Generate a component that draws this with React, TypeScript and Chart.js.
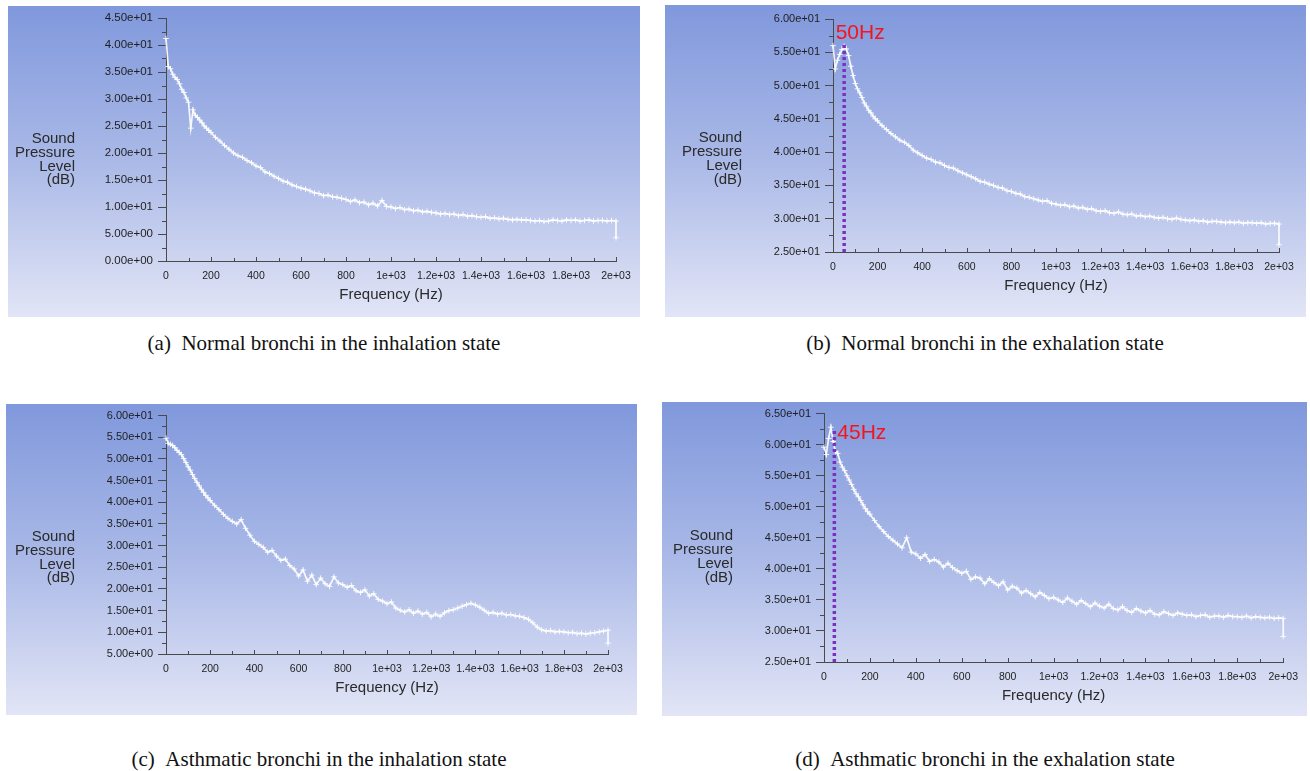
import React, { useEffect, useRef } from "react";
import { Chart, registerables } from "chart.js";

Chart.register(...registerables);

// ---------- data ----------
const FREQ = [
  0, 10, 20, 30, 40, 50, 60, 70, 80, 90, 100, 110, 120, 130, 140, 150, 160, 170, 180, 190,
  200, 220, 240, 260, 280, 300, 320, 340, 360, 380,
  400, 420, 440, 460, 480, 500, 520, 540, 560, 580,
  600, 620, 640, 660, 680, 700, 720, 740, 760, 780,
  800, 820, 840, 860, 880, 900, 920, 940, 960, 980,
  1000, 1020, 1040, 1060, 1080, 1100, 1120, 1140, 1160, 1180,
  1200, 1220, 1240, 1260, 1280, 1300, 1320, 1340, 1360, 1380,
  1400, 1420, 1440, 1460, 1480, 1500, 1520, 1540, 1560, 1580,
  1600, 1620, 1640, 1660, 1680, 1700, 1720, 1740, 1760, 1780,
  1800, 1820, 1840, 1860, 1880, 1900, 1920, 1940, 1960, 1980,
  2000, 2000,
];

// (a) Normal bronchi, inhalation
const SPL_A = [
  41.2, 36.0, 35.6, 34.6, 34.0, 33.6, 32.8, 31.8, 31.2, 30.2, 29.4, 24.6, 28.0, 27.0, 26.6, 26.1, 25.6, 25.0, 24.6, 24.2,
  23.8, 22.9, 22.2, 21.4, 20.7, 20.0, 19.5, 19.2, 18.6, 18.2,
  17.6, 17.3, 16.5, 16.2, 15.7, 15.3, 14.8, 14.6, 14.1, 13.8,
  13.5, 13.3, 13.0, 12.6, 12.5, 12.1, 12.2, 11.9, 11.8, 11.6,
  11.4, 11.0, 11.3, 10.8, 10.9, 10.4, 10.7, 10.2, 11.2, 10.1,
  10.0, 9.7, 9.9, 9.5, 9.6, 9.3, 9.4, 9.1, 9.2, 9.0,
  8.9, 8.7, 8.8, 8.6, 8.7, 8.4, 8.6, 8.3, 8.4, 8.2,
  8.1, 8.2, 7.9, 8.0, 7.8, 7.9, 7.7, 7.6, 7.7, 7.6,
  7.6, 7.5, 7.4, 7.5, 7.3, 7.4, 7.6, 7.5, 7.4, 7.6,
  7.5, 7.6, 7.4, 7.5, 7.6, 7.4, 7.5, 7.5, 7.4, 7.5,
  7.4, 4.3,
];

// (b) Normal bronchi, exhalation
const SPL_B = [
  56.0, 52.5, 53.8, 54.7, 55.4, 55.9, 55.5, 54.5, 52.9, 51.5, 50.3, 49.5, 48.9, 48.2, 47.4, 46.9, 46.3, 45.9, 45.4, 45.0,
  44.7, 44.0, 43.4, 42.8, 42.3, 41.8, 41.5, 41.0, 40.3, 39.9,
  39.5, 39.1, 38.9, 38.5, 38.4, 38.0, 37.7, 37.6, 37.2, 36.9,
  36.6, 36.3, 36.0, 35.6, 35.5, 35.2, 35.0, 34.7, 34.6, 34.2,
  34.1, 33.8, 33.7, 33.3, 33.2, 33.0, 32.8, 32.6, 32.7, 32.3,
  32.2, 32.0, 32.1, 31.8, 31.9, 31.6, 31.7, 31.4, 31.5, 31.2,
  31.1, 31.2, 30.9, 30.8, 31.0, 30.7, 30.6, 30.7, 30.4, 30.5,
  30.3, 30.4, 30.2, 30.1, 30.2, 30.0, 29.9, 30.1, 29.9, 29.8,
  29.7, 29.8, 29.6, 29.7, 29.5, 29.6, 29.6, 29.5, 29.4, 29.5,
  29.4, 29.5, 29.3, 29.4, 29.4, 29.3, 29.4, 29.2, 29.3, 29.3,
  29.2, 26.1,
];

// (c) Asthmatic bronchi, inhalation
const SPL_C = [
  54.8, 53.6, 53.4, 53.1, 52.6, 52.0, 51.5, 51.0, 50.1, 49.2, 48.2, 47.4, 46.4, 45.5, 44.6, 43.8, 43.0, 42.3, 41.6, 41.0,
  40.4, 39.3, 38.3, 37.2, 36.3, 35.6, 35.0, 36.0, 34.0, 32.4,
  31.0, 30.3, 29.6, 28.5, 28.9, 27.6, 26.6, 26.9, 25.4, 24.6,
  23.0, 24.4, 21.8, 23.2, 21.0, 22.5, 21.2, 20.6, 22.8, 21.4,
  21.0, 20.4, 20.8, 19.6, 19.2, 19.8, 18.4, 18.9, 17.6, 17.2,
  16.6, 17.0, 15.6, 15.1, 14.7, 15.2, 14.4, 14.9, 14.2, 14.6,
  13.6, 14.2, 13.7, 14.5, 15.0, 15.2, 15.6, 16.0, 16.4, 16.7,
  16.3, 15.8, 15.1, 14.4, 14.6, 14.2, 14.4, 14.0, 14.1, 13.8,
  13.7, 13.4, 13.0, 12.2, 11.2, 10.6, 10.3, 10.4, 10.1, 10.2,
  10.1, 9.9, 10.0, 9.7, 9.8, 9.6, 9.8, 9.9, 10.1, 10.3,
  10.5, 7.5,
];

// (d) Asthmatic bronchi, exhalation
const SPL_D = [
  59.6, 58.4, 61.0, 62.8, 60.5, 58.9, 58.6, 57.2, 56.4, 55.8, 55.0, 54.3, 53.6, 52.8, 52.1, 51.6, 51.0, 50.3, 49.7, 49.2,
  48.8, 47.8, 46.8, 46.0, 45.2, 44.6, 44.0, 43.4, 45.0, 42.7,
  42.4, 41.7, 42.3, 41.2, 41.5, 41.1, 40.3, 40.9, 40.2, 39.7,
  39.3, 39.6, 38.3, 38.7, 38.5, 37.6, 38.4, 37.8, 37.3, 37.9,
  36.6, 37.2, 36.9, 36.1, 36.5, 36.0, 35.5, 36.2, 35.7, 35.2,
  35.4, 35.0, 34.6, 35.3, 34.8, 34.3, 34.9, 34.4, 33.9, 34.5,
  34.0, 33.7, 34.3, 33.6, 33.4, 33.9, 33.3, 33.0, 33.6, 33.2,
  32.9, 33.3, 32.7, 32.6, 33.1, 32.8, 32.5, 32.9, 32.7, 32.5,
  32.6, 32.3, 32.5, 32.6, 32.2, 32.4, 32.4, 32.2, 32.5, 32.3,
  32.3, 32.2, 32.4, 32.1, 32.3, 32.2, 32.1, 32.2, 32.0, 32.1,
  32.0, 29.1,
];

const Y_TITLE_LINES = ["Sound", "Pressure", "Level", "(dB)"];
const X_TITLE = "Frequency (Hz)";
const CAPTIONS = [
  "(a)\u2002Normal bronchi in the inhalation state",
  "(b)\u2002Normal bronchi in the exhalation state",
  "(c)\u2002Asthmatic bronchi in the inhalation state",
  "(d)\u2002Asthmatic bronchi in the exhalation state",
];

// peak markers: frequency, top value of the dotted line, label and its anchor (data coords)
const MARKER_B = { freq: 50, top: 56.1, label: "50Hz", lx: 12, ly: 57.9 };
const MARKER_D = { freq: 45, top: 62.3, label: "45Hz", lx: 58, ly: 61.8 };

// ---------- layout ----------
type Marker = { freq: number; top: number; label: string; lx: number; ly: number };
type PanelCfg = {
  left: number; top: number; width: number; height: number;
  axL: number; axT: number; axR: number; axB: number;
  yMin: number; yMax: number; values: number[]; marker?: Marker; yFont: number;
};

const PANELS: PanelCfg[] = [
  { left: 8, top: 6, width: 632, height: 311, axL: 166, axT: 18, axR: 616, axB: 261, yMin: 0, yMax: 45, values: SPL_A, yFont: 11.5 },
  { left: 665, top: 5, width: 641, height: 312, axL: 833, axT: 19, axR: 1279, axB: 252, yMin: 25, yMax: 60, values: SPL_B, marker: MARKER_B, yFont: 11 },
  { left: 6, top: 404, width: 631, height: 311, axL: 166, axT: 415, axR: 608, axB: 654, yMin: 5, yMax: 60, values: SPL_C, yFont: 11 },
  { left: 662, top: 402, width: 645, height: 314, axL: 824, axT: 413, axR: 1285, axB: 662, yMin: 25, yMax: 65, values: SPL_D, marker: MARKER_D, yFont: 11 },
];

const CAPTION_POS = [
  { cx: 324, cy: 343 },
  { cx: 985, cy: 343 },
  { cx: 319, cy: 759 },
  { cx: 985, cy: 759 },
];

const Y_W = 70;
const X_H = 45;
const SANS = '"Liberation Sans", Arial, sans-serif';

const isMajorY = (v: number) => Math.abs(v / 5 - Math.round(v / 5)) < 1e-6;
const isMajorX = (v: number) => Math.abs(v / 200 - Math.round(v / 200)) < 1e-6;

const fmtExp = (v: number, digits?: number) => {
  const s = digits === undefined ? v.toExponential() : v.toExponential(digits);
  return s.replace(/e([+-])(\d)$/, "e$10$2");
};
const fmtX = (v: number) => (v < 1000 ? String(v) : fmtExp(v));

const decoPlugin = {
  id: "deco",
  beforeDraw(chart: any) {
    const { ctx, width, height } = chart;
    const g = ctx.createLinearGradient(0, 0, 0, height);
    g.addColorStop(0, "#8098dc");
    g.addColorStop(0.5, "#aab9e7");
    g.addColorStop(1, "#e2e5f6");
    ctx.save();
    ctx.fillStyle = g;
    ctx.fillRect(0, 0, width, height);
    ctx.restore();
  },
  afterDraw(chart: any, _args: any, opts: any) {
    const { ctx, chartArea: ca, scales } = chart;
    const x = scales.x;
    const y = scales.y;
    ctx.save();
    ctx.strokeStyle = "#4a4a4a";
    ctx.lineWidth = 1;
    // minor y ticks (short)
    y.ticks.forEach((t: any) => {
      if (!isMajorY(t.value)) {
        const py = Math.round(y.getPixelForValue(t.value)) + 0.5;
        ctx.beginPath();
        ctx.moveTo(ca.left - 4, py);
        ctx.lineTo(ca.left, py);
        ctx.stroke();
      }
    });
    // x ticks pointing up into the plot
    x.ticks.forEach((t: any) => {
      const px = Math.round(x.getPixelForValue(t.value)) + 0.5;
      ctx.beginPath();
      ctx.moveTo(px, ca.bottom);
      ctx.lineTo(px, ca.bottom - (isMajorX(t.value) ? 4 : 3));
      ctx.stroke();
    });
    // axis titles
    ctx.fillStyle = "#2a2a2a";
    ctx.font = `15px ${SANS}`;
    ctx.textAlign = "right";
    ctx.textBaseline = "middle";
    const lh = 13.8;
    const cy = chart.height / 2 - 2;
    Y_TITLE_LINES.forEach((l, i) => {
      ctx.fillText(l, ca.left - 91, cy + (i - (Y_TITLE_LINES.length - 1) / 2) * lh);
    });
    ctx.textAlign = "center";
    ctx.fillText(X_TITLE, (ca.left + ca.right) / 2, ca.bottom + 34);
    // peak label
    const m: Marker | undefined = opts && opts.marker;
    if (m) {
      ctx.fillStyle = "#f5141e";
      ctx.font = `21px ${SANS}`;
      ctx.textAlign = "left";
      ctx.textBaseline = "middle";
      ctx.fillText(m.label, x.getPixelForValue(m.lx), y.getPixelForValue(m.ly));
    }
    ctx.restore();
  },
};

function Panel({ cfg }: { cfg: PanelCfg }) {
  const ref = useRef<HTMLCanvasElement>(null);
  useEffect(() => {
    const pts = FREQ.map((f, i) => ({ x: f, y: cfg.values[i] }));
    const datasets: any[] = [
      {
        data: pts,
        showLine: true,
        borderColor: "rgba(255,255,255,0.9)",
        borderWidth: 1.7,
        pointStyle: "cross",
        pointRadius: 2.8,
        pointBorderWidth: 1,
        pointBorderColor: "rgba(255,255,255,0.9)",
        pointBackgroundColor: "rgba(255,255,255,0.9)",
        clip: 5,
        order: 2,
      },
    ];
    if (cfg.marker) {
      datasets.push({
        data: [
          { x: cfg.marker.freq, y: cfg.yMin },
          { x: cfg.marker.freq, y: cfg.marker.top },
        ],
        showLine: true,
        borderColor: "#7b30c0",
        borderWidth: 3.5,
        borderDash: [3, 3],
        pointRadius: 0,
        order: 1,
      });
    }
    const padLeft = cfg.axL - cfg.left - Y_W;
    const padTop = cfg.axT - cfg.top;
    const padRight = cfg.left + cfg.width - cfg.axR;
    const padBottom = cfg.top + cfg.height - cfg.axB - X_H;
    const chart = new Chart(ref.current as HTMLCanvasElement, {
      type: "scatter",
      data: { datasets },
      plugins: [decoPlugin as any],
      options: {
        animation: false,
        responsive: false,
        maintainAspectRatio: false,
        devicePixelRatio: 1,
        layout: { padding: { left: padLeft, top: padTop, right: padRight, bottom: padBottom } },
        plugins: {
          legend: { display: false },
          tooltip: { enabled: false },
          deco: { marker: cfg.marker },
        } as any,
        scales: {
          x: {
            type: "linear",
            min: 0,
            max: 2000,
            afterFit: (s: any) => {
              s.height = X_H;
            },
            grid: { display: true, drawOnChartArea: false, drawTicks: false },
            border: { display: true, color: "#4a4a4a", width: 1 },
            ticks: {
              stepSize: 100,
              autoSkip: false,
              maxRotation: 0,
              padding: 9,
              color: "#1e1e1e",
              font: { family: SANS, size: 10.5 },
              callback: (v: any) => (isMajorX(Number(v)) ? fmtX(Number(v)) : ""),
            },
          },
          y: {
            type: "linear",
            min: cfg.yMin,
            max: cfg.yMax,
            afterFit: (s: any) => {
              s.width = Y_W;
            },
            grid: {
              display: true,
              drawOnChartArea: false,
              drawTicks: true,
              tickLength: 8,
              tickColor: (c: any) => (c.tick && isMajorY(c.tick.value) ? "#4a4a4a" : "rgba(0,0,0,0)"),
            },
            border: { display: true, color: "#4a4a4a", width: 1 },
            ticks: {
              stepSize: 2.5,
              autoSkip: false,
              padding: 5,
              color: "#1e1e1e",
              font: { family: SANS, size: cfg.yFont },
              callback: (v: any) => (isMajorY(Number(v)) ? fmtExp(Number(v), 2) : ""),
            },
          },
        },
      } as any,
    });
    return () => chart.destroy();
  }, [cfg]);
  return (
    <canvas
      ref={ref}
      width={cfg.width}
      height={cfg.height}
      style={{ position: "absolute", left: cfg.left, top: cfg.top, width: cfg.width, height: cfg.height }}
    />
  );
}

export default function App() {
  return (
    <div style={{ position: "absolute", left: 0, top: 0, width: 1310, height: 771, background: "#ffffff", overflow: "hidden" }}>
      {PANELS.map((p, i) => (
        <Panel key={i} cfg={p} />
      ))}
      {CAPTIONS.map((c, i) => (
        <div
          key={"c" + i}
          style={{
            position: "absolute",
            left: CAPTION_POS[i].cx - 300,
            width: 600,
            top: CAPTION_POS[i].cy - 13,
            height: 26,
            lineHeight: "26px",
            textAlign: "center",
            fontFamily: '"Liberation Serif", "Times New Roman", serif',
            fontSize: 21,
            color: "#111",
            whiteSpace: "pre",
          }}
        >
          {c}
        </div>
      ))}
    </div>
  );
}
